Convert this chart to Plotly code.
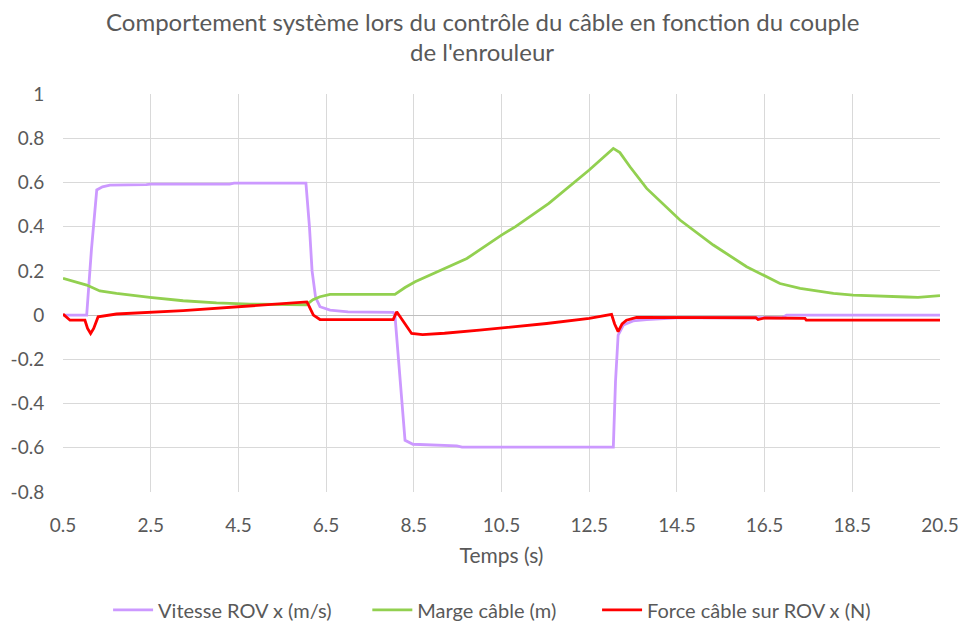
import plotly.graph_objects as go

# Vitesse du ROV selon x (m/s)
vitesse_t = [0.5, 1.04, 1.15, 1.27, 1.4, 1.57, 2.4, 2.5, 4.3, 4.4, 6.04, 6.12, 6.18,
             6.26, 6.36, 6.59, 7.0, 8.03, 8.07, 8.3, 8.48, 9.48, 9.6, 13.05, 13.1,
             13.16, 13.28, 13.5, 13.81, 14.5, 16.9, 17.0, 20.5]
vitesse = [0.0, 0.0, 0.3, 0.566, 0.58, 0.588, 0.59, 0.592, 0.592, 0.597, 0.597, 0.4,
           0.2, 0.08, 0.038, 0.023, 0.015, 0.012, 0.0, -0.566, -0.584, -0.591, -0.597,
           -0.597, -0.3, -0.09, -0.045, -0.026, -0.02, -0.012, -0.012, 0.0, 0.0]

# Marge de câble (m)
marge_t = [0.5, 1.04, 1.34, 1.72, 2.48, 3.24, 4.0, 4.76, 6.05, 6.2, 6.36, 6.59, 8.07,
           8.3, 8.53, 8.95, 9.71, 10.5, 10.82, 11.58, 12.1, 12.5, 13.05, 13.2, 13.43,
           13.81, 14.57, 15.33, 16.09, 16.55, 16.85, 17.31, 18.07, 18.52, 19.0, 19.74,
           20.0, 20.33, 20.5]
marge = [0.166, 0.136, 0.109, 0.098, 0.08, 0.065, 0.055, 0.05, 0.047, 0.07, 0.083,
         0.094, 0.094, 0.125, 0.151, 0.189, 0.256, 0.362, 0.4, 0.505, 0.588, 0.656,
         0.754, 0.735, 0.671, 0.573, 0.43, 0.317, 0.219, 0.173, 0.143, 0.121, 0.098,
         0.09, 0.088, 0.082, 0.08, 0.085, 0.088]

# Force du câble sur le ROV selon x (N)
force_t = [0.5, 0.66, 1.0, 1.06, 1.13, 1.2, 1.3, 1.72, 3.24, 4.76, 6.06, 6.1, 6.21,
           6.36, 8.03, 8.11, 8.3, 8.45, 8.7, 9.2, 10.0, 11.53, 12.5, 13.01, 13.08,
           13.16, 13.25, 13.35, 13.58, 14.5, 16.3, 16.35, 16.5, 16.6, 17.42, 17.45, 20.5]
force = [0.005, -0.023, -0.023, -0.06, -0.083, -0.06, -0.008, 0.005, 0.02, 0.04, 0.06,
         0.045, 0.0, -0.02, -0.02, 0.015, -0.04, -0.083, -0.088, -0.082, -0.068, -0.038,
         -0.015, 0.003, -0.04, -0.075, -0.04, -0.023, -0.01, -0.01, -0.012, -0.02,
         -0.013, -0.013, -0.015, -0.023, -0.023]

x_ticks = [0.5, 2.5, 4.5, 6.5, 8.5, 10.5, 12.5, 14.5, 16.5, 18.5, 20.5]
y_ticks = [1, 0.8, 0.6, 0.4, 0.2, 0, -0.2, -0.4, -0.6, -0.8]
y_labels = ["1", "0.8", "0.6", "0.4", "0.2", "0", "-0.2", "-0.4", "-0.6", "-0.8"]

title_lines = ["Comportement système lors du contrôle du câble en fonction du couple",
               "de l'enrouleur"]

FONT = "Lato"
GREY = "#595959"
NBSP = "\u00a0"

fig = go.Figure()
fig.add_trace(go.Scatter(x=vitesse_t, y=vitesse, mode="lines",
                         name="Vitesse ROV x (m/s)" + NBSP * 6,
                         line=dict(color="#CC99FF", width=2.8)))
fig.add_trace(go.Scatter(x=marge_t, y=marge, mode="lines",
                         name="Marge câble (m)" + NBSP * 7,
                         line=dict(color="#92D050", width=2.8)))
fig.add_trace(go.Scatter(x=force_t, y=force, mode="lines",
                         name="Force câble sur ROV x (N)",
                         line=dict(color="#FF0000", width=2.8)))

# Two-line title, centred on the figure
for text, ypos in zip(title_lines, [1.181, 1.107]):
    fig.add_annotation(text=text, xref="paper", yref="paper", x=0.478, y=ypos,
                       xanchor="center", yanchor="middle", showarrow=False,
                       font=dict(family=FONT, size=24, color=GREY))

fig.update_layout(
    width=965, height=623,
    margin=dict(l=63, r=25, t=94, b=131, autoexpand=False),
    paper_bgcolor="white", plot_bgcolor="white",
    font=dict(family=FONT, color=GREY, size=19),
    showlegend=True,
    legend=dict(orientation="h", x=0.112, xanchor="left",
                xref="container", yref="container", y=0.021, yanchor="middle",
                font=dict(family=FONT, size=20, color=GREY), itemwidth=40),
)
fig.update_xaxes(range=[0.5, 20.5], tickvals=x_ticks, ticktext=[str(v) for v in x_ticks],
                 showgrid=True, gridcolor="#D9D9D9", gridwidth=1,
                 zeroline=False, showline=False, automargin=False,
                 ticks="outside", ticklen=16, tickcolor="rgba(0,0,0,0)",
                 tickfont=dict(family=FONT, size=19, color=GREY),
                 title=dict(text="Temps (s)", font=dict(family=FONT, size=21, color=GREY),
                            standoff=13))
fig.update_yaxes(range=[-0.8, 1], tickvals=y_ticks, ticktext=y_labels,
                 showgrid=True, gridcolor="#D9D9D9", gridwidth=1,
                 zeroline=True, zerolinecolor="#BFBFBF", zerolinewidth=1,
                 showline=False, automargin=False,
                 ticks="outside", ticklen=14, tickcolor="rgba(0,0,0,0)",
                 tickfont=dict(family=FONT, size=19, color=GREY))

fig.write_html("out.html")
